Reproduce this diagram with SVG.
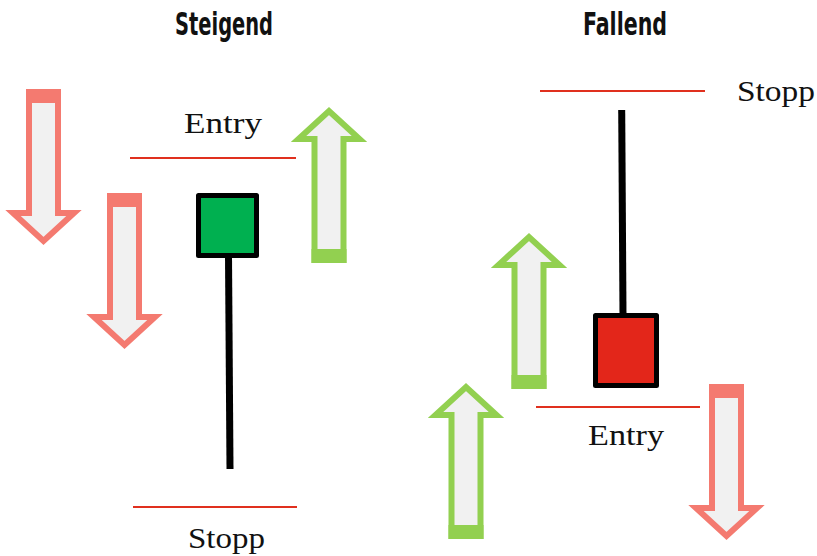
<svg xmlns="http://www.w3.org/2000/svg" xmlns:xlink="http://www.w3.org/1999/xlink" width="817" height="556" viewBox="0 0 817 556">
<style>
.title{font-family:"DejaVu Sans Condensed","DejaVu Sans",sans-serif;font-weight:bold;font-size:32px;fill:#111}
.lbl{font-family:"Liberation Serif",serif;font-size:30px;fill:#111}
.lvl{stroke:#e0301e;stroke-width:2;fill:none}
.wick{stroke:#000;stroke-width:7;fill:none}
.body{stroke:#000;stroke-width:5;stroke-linejoin:round}
.red{color:#f47a70}
.green{color:#92d050}
</style>
<defs>
<g id="arrow">
<polygon points="3,3 32,3 32,124 48,124 17.5,152 -13,124 3,124" fill="#f1f1f1" stroke="currentColor" stroke-width="6" stroke-linejoin="miter"/>
<rect x="0" y="0" width="35" height="14" fill="currentColor"/>
</g>
</defs>
<rect width="817" height="556" fill="#fff"/>
<text class="title" x="175" y="35" textLength="98" lengthAdjust="spacingAndGlyphs">Steigend</text>
<text class="title" x="583" y="35" textLength="84" lengthAdjust="spacingAndGlyphs">Fallend</text>
<g id="connectors">
<line class="lvl" x1="130" y1="158" x2="296" y2="158"/>
<line class="lvl" x1="133" y1="507" x2="297" y2="507"/>
<line class="lvl" x1="540" y1="91" x2="705" y2="91"/>
<line class="lvl" x1="536" y1="407" x2="700" y2="407"/>
</g>
<g id="labels">
<text class="lbl" x="184" y="133" textLength="78" lengthAdjust="spacingAndGlyphs">Entry</text>
<text class="lbl" x="188" y="548" textLength="77" lengthAdjust="spacingAndGlyphs">Stopp</text>
<text class="lbl" x="737" y="101" textLength="78" lengthAdjust="spacingAndGlyphs">Stopp</text>
<text class="lbl" x="588" y="445" textLength="76" lengthAdjust="spacingAndGlyphs">Entry</text>
</g>
<g id="arrow-down-1" class="red"><use xlink:href="#arrow" transform="translate(26,89)"/></g>
<g id="arrow-down-2" class="red"><use xlink:href="#arrow" transform="translate(107,193)"/></g>
<g id="arrow-down-3" class="red"><use xlink:href="#arrow" transform="translate(709,384)"/></g>
<g id="arrow-up-1" class="green"><use xlink:href="#arrow" transform="translate(346.5,263) rotate(180)"/></g>
<g id="arrow-up-2" class="green"><use xlink:href="#arrow" transform="translate(546.5,389) rotate(180)"/></g>
<g id="arrow-up-3" class="green"><use xlink:href="#arrow" transform="translate(483.5,539) rotate(180)"/></g>
<g id="candle-bull">
<line class="wick" x1="228.5" y1="256" x2="230" y2="469"/>
<rect class="body" x="198.5" y="195.5" width="58" height="60" fill="#00b050"/>
</g>
<g id="candle-bear">
<line class="wick" x1="621.7" y1="110" x2="623" y2="316"/>
<rect class="body" x="595.5" y="315.5" width="61" height="70" fill="#e3261a"/>
</g>
</svg>
